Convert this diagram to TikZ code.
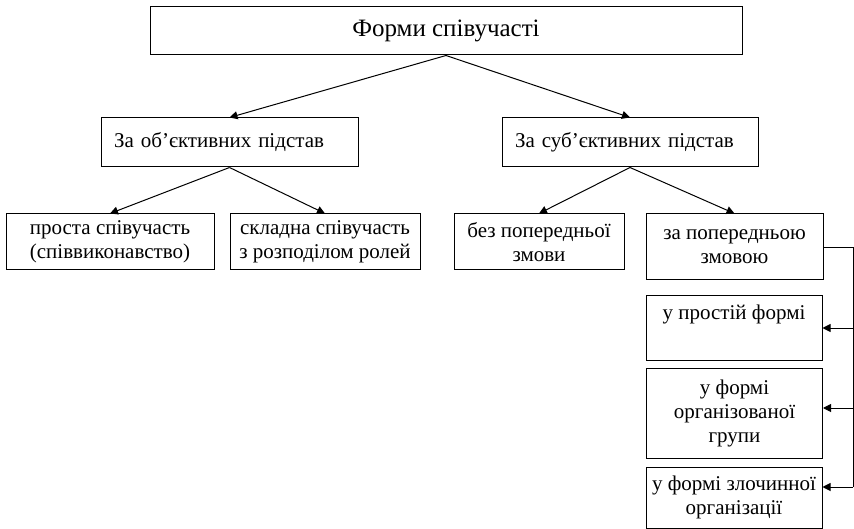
\documentclass[tikz,border=0pt]{standalone}
\usepackage{fontspec}
\setmainfont{Liberation Serif}
\usetikzlibrary{arrows.meta,positioning}

\begin{document}
\begin{tikzpicture}[x=1pt,y=-1pt]
		\useasboundingbox (0,0) rectangle (854,529);

		\begin{scope}[every node/.style={draw,line width=1pt,inner sep=0pt,align=center,
				font=\fontsize{21}{24}\selectfont}]
			\node[minimum width=592,minimum height=48,font=\fontsize{25}{28}\selectfont] (forms) at (446,31) {Форми співучасті};

			\node[text width=231,inner xsep=13,minimum height=49,align=left] (obj) at (229.5,142.5) {За об’єктивних підстав};
			\node[text width=230,inner xsep=13,minimum height=49,align=left] (subj) at (630,142.5) {За суб’єктивних підстав};

			\node[minimum width=208,minimum height=56] (simple) at (110,242) {проста співучасть\\(співвиконавство)};
			\node[minimum width=190,minimum height=56] (complex) at (325,242) {складна співучасть\\з розподілом ролей};
			\node[minimum width=170,minimum height=56] (noplot) at (539,242) {без попередньої\\змови};
			\node[minimum width=177,minimum height=66] (plot) at (734.5,247) {за попередньою\\змовою};

			\node[minimum width=176,minimum height=64] (plain) at (734,328) {у простій формі\\\strut};
			\node[minimum width=176,minimum height=90] (group) at (734.5,413) {у формі\\організованої\\групи};
			\node[minimum width=176,minimum height=61] (crime) at (734,497.5) {у формі злочинної\\організації};
		\end{scope}

		\coordinate (top) at (853,248);
		\coordinate (c1) at (853,328);
		\coordinate (c2) at (853,408);
		\coordinate (c3) at (853,487);

		\begin{scope}[line width=1pt,>={Triangle[black,length=8pt,width=8pt]}]
			\draw[->] (forms.south) -- (obj.north);
			\draw[->] (forms.south) -- (subj.north);

			\draw[->] (obj.south) -- (simple.north);
			\draw[->] (obj.south) -- (complex.north);
			\draw[->] (subj.south) -- (noplot.north);
			\draw[->] (subj.south) -- (plot.north);

			\draw (plot.east |- top) -- (top) -- (c3);
			\draw[->] (c1) -- (plain.east);
			\draw[->] (c2) -- (group.east |- c2);
			\draw[->] (c3) -- (crime.east |- c3);
		\end{scope}
	\end{tikzpicture}
\end{document}
